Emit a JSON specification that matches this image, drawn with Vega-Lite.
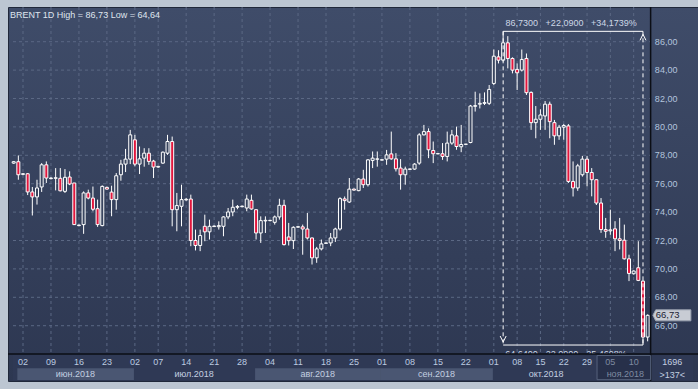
{
"$schema":"https://vega.github.io/schema/vega-lite/v6.json",
"width":690,"height":374,
"autosize":{"type":"none"},
"padding":{"left":8,"top":7,"right":0,"bottom":8},
"background":"#bcc6d2",
"title":{"text":"BRENT 1D High = 86,73 Low = 64,64","anchor":"start","frame":"group","offset":-14,"dx":2,"fontSize":9,"fontWeight":"normal","font":"Liberation Sans","color":"#dfe5ee"},
"config":{
 "font":"Liberation Sans",
 "locale":{"number":{"decimal":",","thousands":"\u00a0","grouping":[3],"currency":["",""]}},
 "view":{"fill":{"gradient":"linear","x1":0,"y1":0,"x2":0,"y2":1,"stops":[{"offset":0,"color":"#3f4c69"},{"offset":1,"color":"#2d3751"}]},"stroke":"#20283a","strokeWidth":1}
},
"datasets":{
 "weeks":[{"i":2,"lab":"02"},{"i":8,"lab":"09"},{"i":14,"lab":"16"},{"i":20,"lab":"23"},{"i":26,"lab":"02"},{"i":31,"lab":"07"},{"i":37,"lab":"14"},{"i":43,"lab":"21"},{"i":49,"lab":"28"},{"i":55,"lab":"04"},{"i":61,"lab":"11"},{"i":67,"lab":"18"},{"i":73,"lab":"25"},{"i":79,"lab":"01"},{"i":85,"lab":"08"},{"i":91,"lab":"15"},{"i":97,"lab":"22"},{"i":103,"lab":"01"},{"i":108,"lab":"08"},{"i":113,"lab":"15"},{"i":118,"lab":"22"},{"i":123,"lab":"29"},{"i":128,"lab":"05"},{"i":133,"lab":"10"}],
 "levels":[{"p":66},{"p":68},{"p":70},{"p":72},{"p":74},{"p":76},{"p":78},{"p":80},{"p":82},{"p":84},{"p":86}],
 "measure":[{"ihi":105,"ilo":135,"hi":86.73,"lo":64.64,"top":"86,7300\u00a0\u00a0\u00a0+22,0900\u00a0\u00a0\u00a0+34,1739%","bot":"64,6400\u00a0\u00a0-22,0900\u00a0\u00a0-25,4698%"}],
 "candles":[
{"i":0,"d":"2018-05-31","m":"май.2018","o":77.45,"h":77.6,"l":77.4,"c":77.55},
{"i":1,"d":"2018-06-01","m":"июн.2018","o":77.55,"h":77.99,"l":76.28,"c":76.63},
{"i":2,"d":"2018-06-02","m":"июн.2018","o":76.66,"h":76.75,"l":76.6,"c":76.7},
{"i":3,"d":"2018-06-04","m":"июн.2018","o":76.7,"h":76.75,"l":75.2,"c":75.42},
{"i":4,"d":"2018-06-05","m":"июн.2018","o":75.42,"h":75.77,"l":73.76,"c":75.07},
{"i":5,"d":"2018-06-06","m":"июн.2018","o":75.07,"h":76.28,"l":74.53,"c":75.7},
{"i":6,"d":"2018-06-07","m":"июн.2018","o":75.77,"h":77.45,"l":75.42,"c":77.33},
{"i":7,"d":"2018-06-08","m":"июн.2018","o":77.33,"h":77.57,"l":76.05,"c":76.4},
{"i":8,"d":"2018-06-09","m":"июн.2018","o":76.36,"h":76.45,"l":76.3,"c":76.4},
{"i":9,"d":"2018-06-11","m":"июн.2018","o":76.38,"h":77.1,"l":75.53,"c":76.42},
{"i":10,"d":"2018-06-12","m":"июн.2018","o":76.38,"h":77.1,"l":75.46,"c":75.5},
{"i":11,"d":"2018-06-13","m":"июн.2018","o":75.46,"h":77.03,"l":75.35,"c":76.45},
{"i":12,"d":"2018-06-14","m":"июн.2018","o":76.47,"h":76.87,"l":75.9,"c":75.98},
{"i":13,"d":"2018-06-15","m":"июн.2018","o":76.05,"h":76.05,"l":73.1,"c":73.12},
{"i":14,"d":"2018-06-16","m":"июн.2018","o":73.05,"h":73.1,"l":73.0,"c":73.09},
{"i":15,"d":"2018-06-18","m":"июн.2018","o":73.12,"h":75.46,"l":72.47,"c":75.35},
{"i":16,"d":"2018-06-19","m":"июн.2018","o":75.35,"h":75.58,"l":74.9,"c":74.99},
{"i":17,"d":"2018-06-20","m":"июн.2018","o":74.99,"h":75.8,"l":74.06,"c":74.2},
{"i":18,"d":"2018-06-21","m":"июн.2018","o":74.24,"h":74.88,"l":72.96,"c":73.12},
{"i":19,"d":"2018-06-22","m":"июн.2018","o":73.05,"h":75.88,"l":73.0,"c":75.81},
{"i":20,"d":"2018-06-23","m":"июн.2018","o":75.74,"h":75.8,"l":75.6,"c":75.62},
{"i":21,"d":"2018-06-25","m":"июн.2018","o":75.41,"h":75.86,"l":73.71,"c":74.88},
{"i":22,"d":"2018-06-26","m":"июн.2018","o":74.88,"h":76.75,"l":74.17,"c":76.56},
{"i":23,"d":"2018-06-27","m":"июн.2018","o":76.63,"h":77.68,"l":76.21,"c":77.38},
{"i":24,"d":"2018-06-28","m":"июн.2018","o":77.38,"h":78.45,"l":76.82,"c":77.73},
{"i":25,"d":"2018-06-29","m":"июн.2018","o":77.73,"h":79.79,"l":77.38,"c":79.44},
{"i":26,"d":"2018-07-02","m":"июл.2018","o":79.09,"h":79.44,"l":77.22,"c":77.38},
{"i":27,"d":"2018-07-03","m":"июл.2018","o":77.38,"h":78.62,"l":76.68,"c":77.75},
{"i":28,"d":"2018-07-04","m":"июл.2018","o":77.8,"h":78.5,"l":77.2,"c":78.15},
{"i":29,"d":"2018-07-05","m":"июл.2018","o":78.15,"h":78.5,"l":77.33,"c":77.57},
{"i":30,"d":"2018-07-06","m":"июл.2018","o":77.59,"h":77.68,"l":76.4,"c":77.17},
{"i":31,"d":"2018-07-07","m":"июл.2018","o":77.17,"h":77.25,"l":77.12,"c":77.22},
{"i":32,"d":"2018-07-09","m":"июл.2018","o":77.45,"h":78.27,"l":77.4,"c":78.22},
{"i":33,"d":"2018-07-10","m":"июл.2018","o":78.15,"h":79.44,"l":78.03,"c":78.97},
{"i":34,"d":"2018-07-11","m":"июл.2018","o":78.97,"h":79.32,"l":73.0,"c":74.17},
{"i":35,"d":"2018-07-12","m":"июл.2018","o":74.17,"h":75.35,"l":72.65,"c":74.46},
{"i":36,"d":"2018-07-13","m":"июл.2018","o":74.41,"h":75.93,"l":73.0,"c":74.88},
{"i":37,"d":"2018-07-14","m":"июл.2018","o":74.86,"h":75.0,"l":74.8,"c":74.9},
{"i":38,"d":"2018-07-16","m":"июл.2018","o":74.92,"h":75.23,"l":71.6,"c":72.0},
{"i":39,"d":"2018-07-17","m":"июл.2018","o":72.0,"h":72.77,"l":71.3,"c":71.65},
{"i":40,"d":"2018-07-18","m":"июл.2018","o":71.65,"h":72.77,"l":71.25,"c":72.35},
{"i":41,"d":"2018-07-19","m":"июл.2018","o":73.0,"h":73.82,"l":71.95,"c":72.61},
{"i":42,"d":"2018-07-20","m":"июл.2018","o":72.61,"h":73.47,"l":72.07,"c":73.0},
{"i":43,"d":"2018-07-21","m":"июл.2018","o":72.98,"h":73.05,"l":72.95,"c":73.02},
{"i":44,"d":"2018-07-23","m":"июл.2018","o":72.97,"h":73.35,"l":72.77,"c":73.05},
{"i":45,"d":"2018-07-24","m":"июл.2018","o":73.0,"h":73.71,"l":72.3,"c":73.66},
{"i":46,"d":"2018-07-25","m":"июл.2018","o":73.66,"h":74.29,"l":73.5,"c":74.01},
{"i":47,"d":"2018-07-26","m":"июл.2018","o":74.01,"h":74.88,"l":73.71,"c":74.34},
{"i":48,"d":"2018-07-27","m":"июл.2018","o":74.34,"h":74.5,"l":74.2,"c":74.4},
{"i":49,"d":"2018-07-28","m":"июл.2018","o":74.38,"h":74.45,"l":74.35,"c":74.42},
{"i":50,"d":"2018-07-30","m":"июл.2018","o":74.29,"h":75.23,"l":74.06,"c":74.92},
{"i":51,"d":"2018-07-31","m":"июл.2018","o":74.83,"h":75.23,"l":74.17,"c":74.22},
{"i":52,"d":"2018-08-01","m":"авг.2018","o":74.17,"h":74.2,"l":72.07,"c":72.53},
{"i":53,"d":"2018-08-02","m":"авг.2018","o":72.53,"h":73.7,"l":71.83,"c":73.4},
{"i":54,"d":"2018-08-03","m":"авг.2018","o":73.38,"h":73.7,"l":72.53,"c":73.42},
{"i":55,"d":"2018-08-04","m":"авг.2018","o":73.4,"h":73.45,"l":73.35,"c":73.42},
{"i":56,"d":"2018-08-06","m":"авг.2018","o":73.28,"h":73.76,"l":73.12,"c":73.66},
{"i":57,"d":"2018-08-07","m":"авг.2018","o":73.66,"h":74.94,"l":73.47,"c":74.48},
{"i":58,"d":"2018-08-08","m":"авг.2018","o":74.48,"h":74.87,"l":71.65,"c":71.71},
{"i":59,"d":"2018-08-09","m":"авг.2018","o":72.25,"h":73.24,"l":71.65,"c":71.99},
{"i":60,"d":"2018-08-10","m":"авг.2018","o":71.99,"h":73.0,"l":71.4,"c":72.93},
{"i":61,"d":"2018-08-11","m":"авг.2018","o":72.94,"h":73.0,"l":72.9,"c":72.97},
{"i":62,"d":"2018-08-13","m":"авг.2018","o":72.96,"h":73.12,"l":71.0,"c":72.81},
{"i":63,"d":"2018-08-14","m":"авг.2018","o":72.81,"h":73.94,"l":72.07,"c":72.18},
{"i":64,"d":"2018-08-15","m":"авг.2018","o":72.18,"h":72.2,"l":70.31,"c":70.78},
{"i":65,"d":"2018-08-16","m":"авг.2018","o":70.78,"h":71.55,"l":70.43,"c":71.41},
{"i":66,"d":"2018-08-17","m":"авг.2018","o":71.41,"h":72.07,"l":71.3,"c":71.76},
{"i":67,"d":"2018-08-18","m":"авг.2018","o":71.8,"h":71.85,"l":71.78,"c":71.83},
{"i":68,"d":"2018-08-20","m":"авг.2018","o":71.83,"h":72.53,"l":71.6,"c":72.18},
{"i":69,"d":"2018-08-21","m":"авг.2018","o":72.18,"h":72.9,"l":71.9,"c":72.81},
{"i":70,"d":"2018-08-22","m":"авг.2018","o":72.81,"h":75.05,"l":72.7,"c":74.95},
{"i":71,"d":"2018-08-23","m":"авг.2018","o":74.93,"h":75.1,"l":74.17,"c":74.81},
{"i":72,"d":"2018-08-24","m":"авг.2018","o":74.71,"h":76.4,"l":74.64,"c":75.62},
{"i":73,"d":"2018-08-25","m":"авг.2018","o":75.62,"h":75.65,"l":75.5,"c":75.55},
{"i":74,"d":"2018-08-27","m":"авг.2018","o":75.51,"h":76.4,"l":75.47,"c":76.33},
{"i":75,"d":"2018-08-28","m":"авг.2018","o":76.33,"h":76.98,"l":75.7,"c":75.93},
{"i":76,"d":"2018-08-29","m":"авг.2018","o":75.93,"h":77.73,"l":75.8,"c":77.68},
{"i":77,"d":"2018-08-30","m":"авг.2018","o":77.64,"h":78.27,"l":77.1,"c":77.8},
{"i":78,"d":"2018-08-31","m":"авг.2018","o":77.72,"h":78.27,"l":77.2,"c":77.75},
{"i":79,"d":"2018-09-01","m":"сен.2018","o":77.66,"h":77.7,"l":77.64,"c":77.69},
{"i":80,"d":"2018-09-03","m":"сен.2018","o":77.73,"h":78.38,"l":77.33,"c":78.03},
{"i":81,"d":"2018-09-04","m":"сен.2018","o":78.1,"h":79.67,"l":77.68,"c":77.75},
{"i":82,"d":"2018-09-05","m":"сен.2018","o":77.75,"h":78.15,"l":76.86,"c":77.05},
{"i":83,"d":"2018-09-06","m":"сен.2018","o":77.1,"h":77.73,"l":75.58,"c":76.63},
{"i":84,"d":"2018-09-07","m":"сен.2018","o":76.63,"h":77.2,"l":75.93,"c":77.03},
{"i":85,"d":"2018-09-08","m":"сен.2018","o":77.01,"h":77.06,"l":76.98,"c":77.04},
{"i":86,"d":"2018-09-10","m":"сен.2018","o":77.03,"h":77.45,"l":76.98,"c":77.38},
{"i":87,"d":"2018-09-11","m":"сен.2018","o":77.45,"h":79.56,"l":77.33,"c":79.44},
{"i":88,"d":"2018-09-12","m":"сен.2018","o":79.44,"h":80.14,"l":79.4,"c":79.67},
{"i":89,"d":"2018-09-13","m":"сен.2018","o":79.67,"h":79.9,"l":77.8,"c":78.39},
{"i":90,"d":"2018-09-14","m":"сен.2018","o":78.34,"h":78.97,"l":77.45,"c":78.11},
{"i":91,"d":"2018-09-15","m":"сен.2018","o":78.1,"h":78.14,"l":78.08,"c":78.12},
{"i":92,"d":"2018-09-17","m":"сен.2018","o":78.11,"h":78.86,"l":77.68,"c":77.92},
{"i":93,"d":"2018-09-18","m":"сен.2018","o":77.92,"h":79.67,"l":77.57,"c":78.86},
{"i":94,"d":"2018-09-19","m":"сен.2018","o":78.86,"h":79.79,"l":78.74,"c":79.44},
{"i":95,"d":"2018-09-20","m":"сен.2018","o":79.37,"h":80.02,"l":78.39,"c":78.62},
{"i":96,"d":"2018-09-21","m":"сен.2018","o":78.6,"h":80.14,"l":78.22,"c":78.76},
{"i":97,"d":"2018-09-22","m":"сен.2018","o":78.77,"h":78.8,"l":78.75,"c":78.79},
{"i":98,"d":"2018-09-24","m":"сен.2018","o":78.9,"h":81.55,"l":78.85,"c":81.47},
{"i":99,"d":"2018-09-25","m":"сен.2018","o":81.45,"h":82.48,"l":81.08,"c":81.5},
{"i":100,"d":"2018-09-26","m":"сен.2018","o":81.6,"h":82.36,"l":81.3,"c":81.66},
{"i":101,"d":"2018-09-27","m":"сен.2018","o":81.66,"h":82.43,"l":81.54,"c":81.71},
{"i":102,"d":"2018-09-28","m":"сен.2018","o":81.66,"h":82.95,"l":81.54,"c":82.64},
{"i":103,"d":"2018-10-01","m":"окт.2018","o":83.06,"h":85.45,"l":82.95,"c":84.98},
{"i":104,"d":"2018-10-02","m":"окт.2018","o":84.93,"h":85.4,"l":84.47,"c":84.7},
{"i":105,"d":"2018-10-03","m":"окт.2018","o":84.7,"h":86.73,"l":84.6,"c":85.92},
{"i":106,"d":"2018-10-04","m":"окт.2018","o":85.92,"h":86.39,"l":84.12,"c":84.82},
{"i":107,"d":"2018-10-05","m":"окт.2018","o":84.82,"h":84.9,"l":83.77,"c":84.0},
{"i":108,"d":"2018-10-08","m":"окт.2018","o":84.05,"h":84.47,"l":82.6,"c":83.81},
{"i":109,"d":"2018-10-09","m":"окт.2018","o":84.0,"h":85.45,"l":83.9,"c":84.75},
{"i":110,"d":"2018-10-10","m":"окт.2018","o":84.82,"h":85.17,"l":82.25,"c":82.41},
{"i":111,"d":"2018-10-11","m":"окт.2018","o":82.43,"h":82.5,"l":79.79,"c":80.3},
{"i":112,"d":"2018-10-12","m":"окт.2018","o":80.3,"h":81.47,"l":79.2,"c":80.54},
{"i":113,"d":"2018-10-15","m":"окт.2018","o":80.54,"h":81.24,"l":79.79,"c":80.84},
{"i":114,"d":"2018-10-16","m":"окт.2018","o":80.77,"h":81.82,"l":79.79,"c":81.6},
{"i":115,"d":"2018-10-17","m":"окт.2018","o":81.6,"h":81.78,"l":79.2,"c":80.37},
{"i":116,"d":"2018-10-18","m":"окт.2018","o":80.3,"h":80.49,"l":78.74,"c":79.37},
{"i":117,"d":"2018-10-19","m":"окт.2018","o":79.37,"h":80.14,"l":79.09,"c":79.98},
{"i":118,"d":"2018-10-22","m":"окт.2018","o":79.98,"h":80.21,"l":79.1,"c":80.1},
{"i":119,"d":"2018-10-23","m":"окт.2018","o":80.07,"h":80.2,"l":76.05,"c":76.16},
{"i":120,"d":"2018-10-24","m":"окт.2018","o":76.16,"h":77.57,"l":75.1,"c":75.7},
{"i":121,"d":"2018-10-25","m":"окт.2018","o":75.7,"h":77.4,"l":75.5,"c":77.26},
{"i":122,"d":"2018-10-26","m":"окт.2018","o":76.63,"h":77.96,"l":76.5,"c":77.73},
{"i":123,"d":"2018-10-29","m":"окт.2018","o":77.73,"h":77.96,"l":75.81,"c":76.79},
{"i":124,"d":"2018-10-30","m":"окт.2018","o":76.79,"h":77.1,"l":75.11,"c":76.28},
{"i":125,"d":"2018-10-31","m":"окт.2018","o":76.28,"h":76.3,"l":74.5,"c":74.64},
{"i":126,"d":"2018-11-01","m":"ноя.2018","o":74.64,"h":74.99,"l":72.54,"c":72.77},
{"i":127,"d":"2018-11-02","m":"ноя.2018","o":72.77,"h":73.59,"l":72.19,"c":72.65},
{"i":128,"d":"2018-11-05","m":"ноя.2018","o":72.68,"h":74.17,"l":72.4,"c":72.75},
{"i":129,"d":"2018-11-06","m":"ноя.2018","o":72.82,"h":73.36,"l":71.25,"c":72.12},
{"i":130,"d":"2018-11-07","m":"ноя.2018","o":72.12,"h":73.59,"l":71.37,"c":72.0},
{"i":131,"d":"2018-11-08","m":"ноя.2018","o":72.02,"h":73.12,"l":70.66,"c":70.71},
{"i":132,"d":"2018-11-09","m":"ноя.2018","o":70.71,"h":71.0,"l":69.14,"c":69.68},
{"i":133,"d":"2018-11-10","m":"ноя.2018","o":69.66,"h":69.9,"l":69.6,"c":69.85},
{"i":134,"d":"2018-11-12","m":"ноя.2018","o":70.08,"h":71.95,"l":69.14,"c":69.19},
{"i":135,"d":"2018-11-13","m":"ноя.2018","o":69.14,"h":69.2,"l":64.64,"c":65.2},
{"i":136,"d":"2018-11-14","m":"ноя.2018","o":65.2,"h":66.8,"l":64.9,"c":66.73}
 ]
},
"layer":[
 {"data":{"name":"weeks"},"mark":{"type":"rule","stroke":"#5b6884","strokeDash":[3,3],"strokeWidth":1},
  "encoding":{"x":{"field":"i","type":"quantitative","scale":{"domain":[-0.148,145.729],"nice":false,"zero":false},"axis":null},
   "y":{"datum":88.444,"type":"quantitative","scale":{"domain":[62.106,88.444],"nice":false,"zero":false},"axis":null},"y2":{"datum":64.01}}},
 {"data":{"name":"levels"},"mark":{"type":"rule","stroke":"#5b6884","strokeDash":[3,3],"strokeWidth":1},
  "encoding":{"y":{"field":"p","type":"quantitative","scale":{"domain":[62.106,88.444],"nice":false,"zero":false},"axis":null},
   "x":{"datum":-0.148,"type":"quantitative","scale":{"domain":[-0.148,145.729],"nice":false,"zero":false},"axis":null},"x2":{"datum":136.64}}},
 {"data":{"name":"candles"},"mark":{"type":"rule","stroke":"#ffffff","strokeWidth":1},
  "encoding":{"x":{"field":"i","type":"quantitative","scale":{"domain":[-0.148,145.729],"nice":false,"zero":false},"axis":null},
   "y":{"field":"l","type":"quantitative","scale":{"domain":[62.106,88.444],"nice":false,"zero":false},"axis":null},"y2":{"field":"h"}}},
 {"data":{"name":"candles"},"mark":{"type":"bar","size":3,"stroke":"#ffffff","strokeWidth":1},
  "encoding":{
   "x":{"field":"i","type":"quantitative","scale":{"domain":[-0.148,145.729],"nice":false,"zero":false},"axis":null},
   "y":{"field":"o","type":"quantitative","scale":{"domain":[62.106,88.444],"nice":false,"zero":false},"axis":null},
   "y2":{"field":"c"},
   "fill":{"condition":{"test":"datum.c < datum.o","value":"#e2163d"},"value":"#39455f"}
  }},
 {"data":{"name":"measure"},"mark":{"type":"rule","stroke":"#ffffff","strokeWidth":1},
  "encoding":{"x":{"field":"ihi","type":"quantitative","scale":{"domain":[-0.148,145.729],"nice":false,"zero":false},"axis":null},"x2":{"field":"ilo"},
   "y":{"field":"hi","type":"quantitative","scale":{"domain":[62.106,88.444],"nice":false,"zero":false},"axis":null}}},
 {"data":{"name":"measure"},"mark":{"type":"rule","stroke":"#ffffff","strokeWidth":1},
  "encoding":{"x":{"field":"ihi","type":"quantitative","scale":{"domain":[-0.148,145.729],"nice":false,"zero":false},"axis":null},"x2":{"field":"ilo"},
   "y":{"field":"lo","type":"quantitative","scale":{"domain":[62.106,88.444],"nice":false,"zero":false},"axis":null}}},
 {"data":{"name":"measure"},"mark":{"type":"rule","stroke":"#ffffff","strokeWidth":1,"strokeDash":[4,3]},
  "encoding":{"x":{"field":"ihi","type":"quantitative","scale":{"domain":[-0.148,145.729],"nice":false,"zero":false},"axis":null},
   "y":{"field":"hi","type":"quantitative","scale":{"domain":[62.106,88.444],"nice":false,"zero":false},"axis":null},"y2":{"field":"lo"}}},
 {"data":{"name":"measure"},"mark":{"type":"rule","stroke":"#ffffff","strokeWidth":1,"strokeDash":[4,3]},
  "encoding":{"x":{"field":"ilo","type":"quantitative","scale":{"domain":[-0.148,145.729],"nice":false,"zero":false},"axis":null},
   "y":{"field":"hi","type":"quantitative","scale":{"domain":[62.106,88.444],"nice":false,"zero":false},"axis":null},"y2":{"field":"lo"}}},
 {"data":{"name":"measure"},"mark":{"type":"point","shape":"M-1,1L0,-1L1,1","filled":false,"stroke":"#ffffff","strokeWidth":1,"size":36,"opacity":1,"yOffset":6},
  "encoding":{"x":{"field":"ilo","type":"quantitative","scale":{"domain":[-0.148,145.729],"nice":false,"zero":false},"axis":null},
   "y":{"field":"hi","type":"quantitative","scale":{"domain":[62.106,88.444],"nice":false,"zero":false},"axis":null}}},
 {"data":{"name":"measure"},"mark":{"type":"point","shape":"M-1,-1L0,1L1,-1","filled":false,"stroke":"#ffffff","strokeWidth":1,"size":36,"opacity":1,"yOffset":-6},
  "encoding":{"x":{"field":"ihi","type":"quantitative","scale":{"domain":[-0.148,145.729],"nice":false,"zero":false},"axis":null},
   "y":{"field":"lo","type":"quantitative","scale":{"domain":[62.106,88.444],"nice":false,"zero":false},"axis":null}}},
 {"data":{"name":"measure"},"mark":{"type":"text","dx":68,"dy":-8,"align":"center","baseline":"middle","fontSize":9,"font":"Liberation Sans","fill":"#cdd7e6"},
  "encoding":{"x":{"field":"ihi","type":"quantitative","scale":{"domain":[-0.148,145.729],"nice":false,"zero":false},"axis":null},
   "y":{"field":"hi","type":"quantitative","scale":{"domain":[62.106,88.444],"nice":false,"zero":false},"axis":null},"text":{"field":"top"}}},
 {"data":{"name":"measure"},"mark":{"type":"text","dx":2,"dy":9,"align":"left","baseline":"middle","fontSize":9,"font":"Liberation Sans","fill":"#cdd7e6"},
  "encoding":{"x":{"field":"ihi","type":"quantitative","scale":{"domain":[-0.148,145.729],"nice":false,"zero":false},"axis":null},
   "y":{"field":"lo","type":"quantitative","scale":{"domain":[62.106,88.444],"nice":false,"zero":false},"axis":null},"text":{"field":"bot"}}},
 {"data":{"name":"measure"},"mark":{"type":"rect","fill":"#2f3955"},
  "encoding":{"x":{"datum":-0.148,"type":"quantitative","scale":{"domain":[-0.148,145.729],"nice":false,"zero":false},"axis":null},"x2":{"datum":145.729},
   "y":{"datum":64.01,"type":"quantitative","scale":{"domain":[62.106,88.444],"nice":false,"zero":false},"axis":null},"y2":{"datum":62.18}}},
 {"data":{"name":"measure"},"mark":{"type":"rule","stroke":"#0b0e15","strokeWidth":1.5},
  "encoding":{"x":{"datum":136.64,"type":"quantitative","scale":{"domain":[-0.148,145.729],"nice":false,"zero":false},"axis":null}}},
 {"data":{"name":"measure"},"mark":{"type":"rule","stroke":"#0b0e15","strokeWidth":1.5},
  "encoding":{"y":{"datum":64.01,"type":"quantitative","scale":{"domain":[62.106,88.444],"nice":false,"zero":false},"axis":null}}},
 {"data":{"name":"candles"},"transform":[{"filter":"datum.m == 'июн.2018' || datum.m == 'авг.2018' || datum.m == 'сен.2018'"}],
  "mark":{"type":"rect","fill":"#4a5672","xOffset":-1,"x2Offset":3.7},
  "encoding":{"x":{"aggregate":"min","field":"i","type":"quantitative","scale":{"domain":[-0.148,145.729],"nice":false,"zero":false},"axis":null},
   "x2":{"aggregate":"max","field":"i"},"detail":{"field":"m","type":"nominal"},
   "y":{"datum":63.0,"type":"quantitative","scale":{"domain":[62.106,88.444],"nice":false,"zero":false},"axis":null},"y2":{"datum":62.18}}},
 {"data":{"name":"candles"},"transform":[{"filter":"datum.m == 'ноя.2018'"}],
  "mark":{"type":"rect","fill":"#27304a","stroke":"#56627c","strokeWidth":1,"xOffset":-4,"x2Offset":3},
  "encoding":{"x":{"aggregate":"min","field":"i","type":"quantitative","scale":{"domain":[-0.148,145.729],"nice":false,"zero":false},"axis":null},
   "x2":{"aggregate":"max","field":"i"},"detail":{"field":"m","type":"nominal"},
   "y":{"datum":63.9,"type":"quantitative","scale":{"domain":[62.106,88.444],"nice":false,"zero":false},"axis":null},"y2":{"datum":62.2}}},
 {"data":{"name":"weeks"},
  "mark":{"type":"text","align":"center","baseline":"middle","fontSize":9,"font":"Liberation Sans"},
  "encoding":{"x":{"field":"i","type":"quantitative","scale":{"domain":[-0.148,145.729],"nice":false,"zero":false},"axis":null},
   "y":{"datum":63.41,"type":"quantitative","scale":{"domain":[62.106,88.444],"nice":false,"zero":false},"axis":null},
   "text":{"field":"lab","type":"nominal"},
   "fill":{"condition":{"test":"datum.i >= 128","value":"#7f8ba1"},"value":"#bccbe0"}}},
 {"data":{"name":"levels"},
  "mark":{"type":"text","align":"left","baseline":"middle","fontSize":9,"font":"Liberation Sans","fill":"#b3c4dd"},
  "encoding":{"x":{"datum":137.55,"type":"quantitative","scale":{"domain":[-0.148,145.729],"nice":false,"zero":false},"axis":null},
   "y":{"field":"p","type":"quantitative","scale":{"domain":[62.106,88.444],"nice":false,"zero":false},"axis":null},
   "text":{"field":"p","type":"quantitative","format":".2f"}}},
 {"data":{"name":"candles"},"transform":[{"filter":"datum.i >= 1"}],
  "mark":{"type":"text","align":"center","baseline":"middle","fontSize":9,"font":"Liberation Sans","dx":1},
  "encoding":{"x":{"aggregate":"mean","field":"i","type":"quantitative","scale":{"domain":[-0.148,145.729],"nice":false,"zero":false},"axis":null},
   "y":{"datum":62.6,"type":"quantitative","scale":{"domain":[62.106,88.444],"nice":false,"zero":false},"axis":null},
   "text":{"field":"m","type":"nominal"},
   "fill":{"condition":{"test":"datum.m == 'ноя.2018'","value":"#7f8ba1"},"value":"#c3cfe0"}}},
 {"data":{"name":"measure"},"mark":{"type":"text","align":"center","baseline":"middle","fontSize":9,"font":"Liberation Sans","fill":"#c3cfe0"},
  "encoding":{"x":{"datum":141.3,"type":"quantitative","scale":{"domain":[-0.148,145.729],"nice":false,"zero":false},"axis":null},
   "y":{"datum":63.44,"type":"quantitative","scale":{"domain":[62.106,88.444],"nice":false,"zero":false},"axis":null},"text":{"value":"1696"}}},
 {"data":{"name":"measure"},"mark":{"type":"text","align":"center","baseline":"middle","fontSize":9,"font":"Liberation Sans","fill":"#c3cfe0"},
  "encoding":{"x":{"datum":141.3,"type":"quantitative","scale":{"domain":[-0.148,145.729],"nice":false,"zero":false},"axis":null},
   "y":{"datum":62.56,"type":"quantitative","scale":{"domain":[62.106,88.444],"nice":false,"zero":false},"axis":null},"text":{"value":">137<"}}},
 {"data":{"name":"candles"},"transform":[{"filter":"datum.i == 136"}],
  "mark":{"type":"point","shape":"M-1,0L-0.85,-0.29L1,-0.29L1,0.29L-0.85,0.29Z","filled":true,"fill":"#c8ccd4","stroke":"#9aa2b0","strokeWidth":1,"size":1444,"opacity":1},
  "encoding":{"x":{"datum":141.2,"type":"quantitative","scale":{"domain":[-0.148,145.729],"nice":false,"zero":false},"axis":null},
   "y":{"field":"c","type":"quantitative","scale":{"domain":[62.106,88.444],"nice":false,"zero":false},"axis":null}}},
 {"data":{"name":"candles"},"transform":[{"filter":"datum.i == 136"}],
  "mark":{"type":"text","align":"left","baseline":"middle","fontSize":9.5,"font":"Liberation Sans","fill":"#1b2232"},
  "encoding":{"x":{"datum":137.75,"type":"quantitative","scale":{"domain":[-0.148,145.729],"nice":false,"zero":false},"axis":null},
   "y":{"field":"c","type":"quantitative","scale":{"domain":[62.106,88.444],"nice":false,"zero":false},"axis":null},
   "text":{"field":"c","type":"quantitative","format":".2f"}}}
]
}
